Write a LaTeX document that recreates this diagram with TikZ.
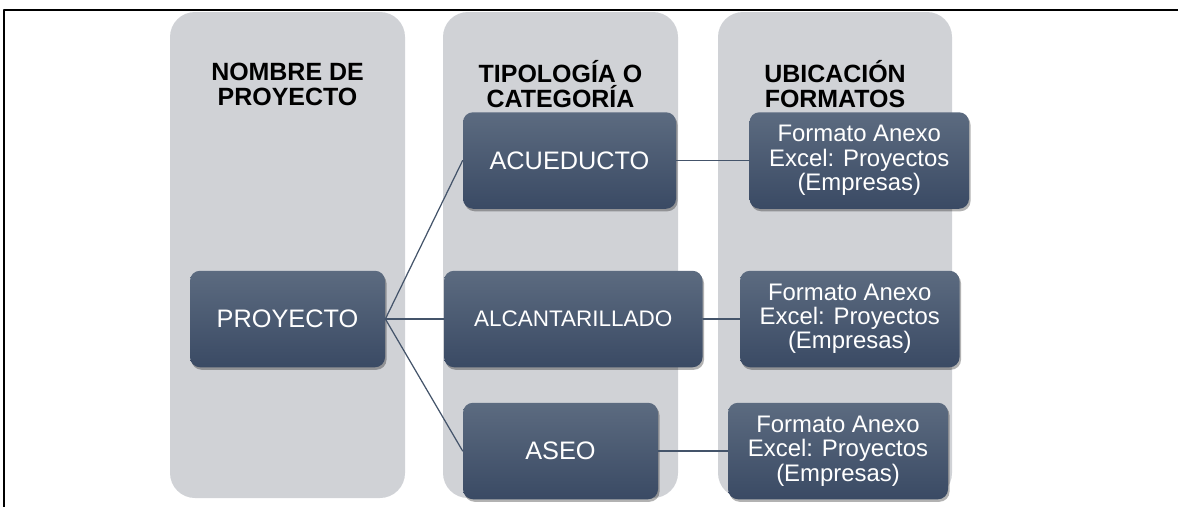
\documentclass[tikz,border=0pt]{standalone}
\usepackage{fontspec}
\setmainfont{Liberation Sans}
\usetikzlibrary{shadows}

\definecolor{colgray}{RGB}{208,210,214}
\definecolor{boxtop}{RGB}{92,107,128}
\definecolor{boxbot}{RGB}{58,74,100}
\definecolor{linkcol}{RGB}{68,84,106}

\tikzset{
	colbox/.style={rounded corners=0.5cm,fill=colgray,minimum width=4.7cm,minimum height=9.72cm,inner sep=0pt},
	heading/.style={font=\bfseries\fontsize{14.2}{14.2}\selectfont,align=center,text=black},
	itembox/.style={rounded corners=0.2cm,top color=boxtop,bottom color=boxbot,text=white,minimum height=1.93cm,inner sep=0pt,align=center,
		drop shadow={shadow xshift=0.03cm,shadow yshift=-0.05cm,opacity=0.3,fill=black}},
	link/.style={draw=linkcol,line width=0.7pt}
}

\begin{document}
\begin{tikzpicture}[line cap=round,line join=round,x=1.0cm,y=1.0cm]
		\useasboundingbox (0,0) rectangle (23.56,10.12);
		% marco
		\draw [line width=1.1pt,line cap=rect] (0.08,0)-- (0.08,9.92)-- (23.56,9.92);
		% columnas
		\node [colbox] (col1) at (5.75,5.02) {};
		\node [colbox] (col2) at (11.21,5.02) {};
		\node [colbox,minimum width=4.68cm] (col3) at (16.70,5.02) {};
		\node [heading] (h1) at (5.75,8.44) {NOMBRE DE\\PROYECTO};
		\node [heading] (h2) at (11.21,8.44) {TIPOLOGÍA O\\CATEGORÍA};
		\node [heading] (h3) at (16.70,8.44) {UBICACIÓN\\FORMATOS};
		% cajas
		\begin{scope}[font=\fontsize{14.4}{15.5}\selectfont]
			\node [itembox,minimum width=3.9cm] (proy) at (5.75,3.74) {PROYECTO};
			\node [itembox,minimum width=4.26cm] (acue) at (11.39,6.91) {ACUEDUCTO};
			\node [itembox,minimum width=5.17cm,font=\fontsize{12.8}{14}\selectfont] (alca) at (11.465,3.74) {ALCANTARILLADO};
			\node [itembox,minimum width=3.9cm] (aseo) at (11.21,1.10) {ASEO};
		\end{scope}
		\begin{scope}[font=\fontsize{13.6}{13.8}\selectfont]
			\node [itembox,minimum width=4.39cm] (form1) at (17.185,6.91) {Formato Anexo\\Excel: Proyectos\\(Empresas)};
			\node [itembox,minimum width=4.39cm] (form2) at (16.995,3.74) {Formato Anexo\\Excel: Proyectos\\(Empresas)};
			\node [itembox,minimum width=4.4cm] (form3) at (16.76,1.10) {Formato Anexo\\Excel: Proyectos\\(Empresas)};
		\end{scope}
		% conectores
		\draw [link] (proy.east)-- (acue.west);
		\draw [link] (proy.east)-- (alca.west);
		\draw [link] (proy.east)-- (aseo.west);
		\draw [link] (acue.east)-- (form1.west);
		\draw [link] (alca.east)-- (form2.west);
		\draw [link] (aseo.east)-- (form3.west);
	\end{tikzpicture}
\end{document}
